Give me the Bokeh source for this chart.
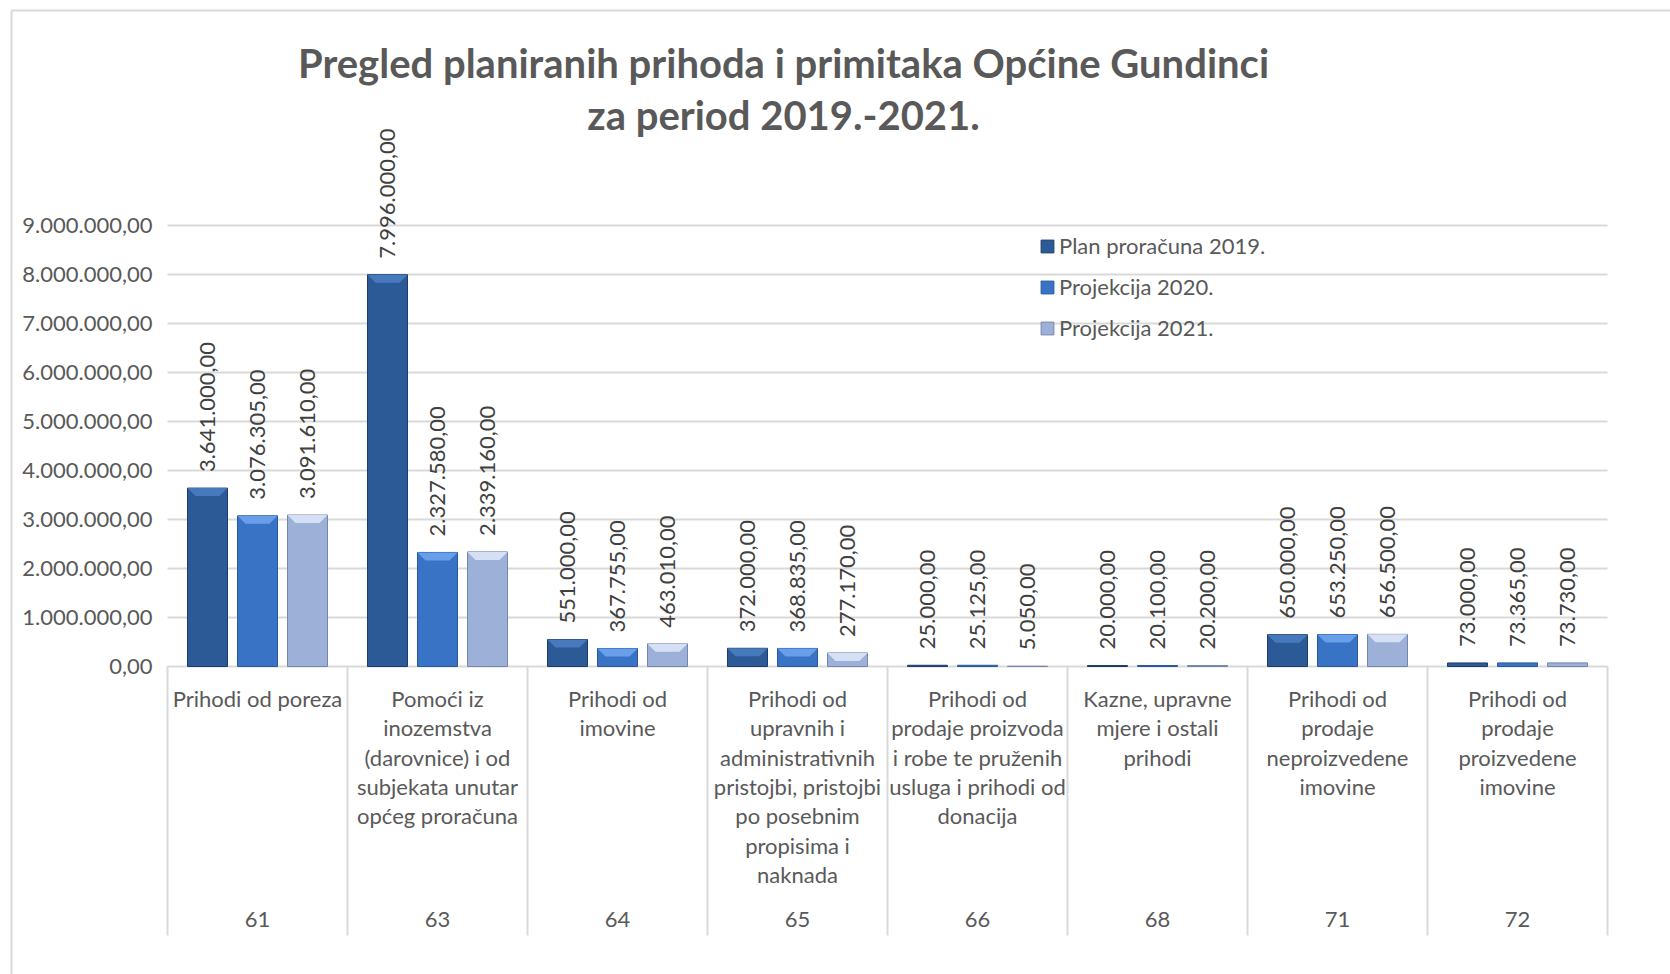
import math
from bokeh.plotting import figure
from bokeh.models import Range1d, Legend, LegendItem
from bokeh.core.properties import value
from bokeh.embed import file_html
from bokeh.resources import INLINE

# ---------------- data ----------------
codes = ["61", "63", "64", "65", "66", "68", "71", "72"]
categories = [
    "Prihodi od poreza",
    "Pomoći iz\ninozemstva\n(darovnice) i od\nsubjekata unutar\nopćeg proračuna",
    "Prihodi od\nimovine",
    "Prihodi od\nupravnih i\nadministrativnih\npristojbi, pristojbi\npo posebnim\npropisima i\nnaknada",
    "Prihodi od\nprodaje proizvoda\ni robe te pruženih\nusluga i prihodi od\ndonacija",
    "Kazne, upravne\nmjere i ostali\nprihodi",
    "Prihodi od\nprodaje\nneproizvedene\nimovine",
    "Prihodi od\nprodaje\nproizvedene\nimovine",
]
plan_2019 = [3641000, 7996000, 551000, 372000, 25000, 20000, 650000, 73000]
proj_2020 = [3076305, 2327580, 367755, 368835, 25125, 20100, 653250, 73365]
proj_2021 = [3091610, 2339160, 463010, 277170, 5050, 20200, 656500, 73730]
series_names = ["Plan proračuna 2019.", "Projekcija 2020.", "Projekcija 2021."]
y_ticks = [0, 1000000, 2000000, 3000000, 4000000, 5000000, 6000000, 7000000, 8000000, 9000000]
title_lines = ["Pregled planiranih prihoda i primitaka Općine Gundinci", "za period 2019.-2021."]

# ---------------- styles / layout ----------------
FONT = "Lato"
TXT = "#595959"
GRID = "#D9D9D9"
fills = ["#2B5A97", "#3873C6", "#9DB1D8"]
edges = ["#1C3D6B", "#2A5A9E", "#7486AC"]
tops = ["#4A7DC0", "#6FA3EC", "#DCE6F7"]

W, H = 1670, 974
FL, FR = 167, 1607            # plot area left/right (px)
ZERO_PX, TOP_TICK_PX = 666, 225
ppu_y = (ZERO_PX - TOP_TICK_PX) / y_ticks[-1]
ppu_x = (FR - FL) / len(codes)


def X(px):
    return (px - FL) / ppu_x


def Y(py):
    return (ZERO_PX - py) / ppu_y


def fmt(v):
    s = f"{v:,.2f}"
    return s.replace(",", "X").replace(".", ",").replace("X", ".")


p = figure(width=W, height=H, x_range=Range1d(X(0), X(W)), y_range=Range1d(Y(H), Y(0)),
           output_backend="svg", toolbar_location=None,
           x_axis_location=None, y_axis_location=None,
           min_border=0, min_border_left=0, min_border_right=0,
           min_border_top=0, min_border_bottom=0)
p.outline_line_color = None
p.background_fill_color = "white"
p.border_fill_color = "white"
p.grid.visible = False

# chart border (left + top)
p.segment(x0=[X(11), X(11)], y0=[Y(10), Y(10)], x1=[X(11), X(W)], y1=[Y(H), Y(10)],
          line_color=GRID, line_width=2)

# value gridlines + tick labels
n = len(codes)
p.segment(x0=[0] * len(y_ticks), y0=y_ticks, x1=[n] * len(y_ticks), y1=y_ticks,
          line_color=GRID, line_width=2)
p.text(x=[X(152)] * len(y_ticks), y=y_ticks, text=[fmt(t) for t in y_ticks],
       text_align="right", text_baseline="middle",
       text_font=value(FONT), text_font_size="22px", text_color=TXT)

# category separators
bounds = list(range(n + 1))
p.segment(x0=bounds, y0=[0] * len(bounds), x1=bounds, y1=[Y(935)] * len(bounds),
          line_color=GRID, line_width=2)

# bars
bar_w = 40 / ppu_x
offs = [-50 / ppu_x, 0.0, 50 / ppu_x]
renderers = []
for k, vals in enumerate([plan_2019, proj_2020, proj_2021]):
    xs = [i + 0.5 + offs[k] for i in range(len(vals))]
    r = p.vbar(x=xs, top=vals, bottom=0, width=bar_w, fill_color=fills[k],
               line_color=edges[k], line_width=1)
    renderers.append(r)
    # bevel highlight on top
    pxs, pys = [], []
    bev_y = 8 / ppu_y
    bev_x = 8 / ppu_x
    for xc, v in zip(xs, vals):
        if v * ppu_y > 12:
            pxs.append([xc - bar_w / 2, xc + bar_w / 2, xc + bar_w / 2 - bev_x, xc - bar_w / 2 + bev_x])
            pys.append([v, v, v - bev_y, v - bev_y])
    if pxs:
        p.patches(xs=pxs, ys=pys, fill_color=tops[k], line_color=None, fill_alpha=0.9)
    # data labels
    p.text(x=xs, y=[v + 16 / ppu_y for v in vals], text=[fmt(v) for v in vals],
           angle=math.pi / 2, text_align="left", text_baseline="middle",
           text_font=value(FONT), text_font_size="22px", text_color="#404040")

# category labels
lx, ly, lt = [], [], []
for i, c in enumerate(categories):
    for j, line in enumerate(c.split("\n")):
        lx.append(i + 0.5)
        ly.append(Y(698 + j * 29.3))
        lt.append(line)
p.text(x=lx, y=ly, text=lt, text_align="center", text_baseline="middle",
       text_font=value(FONT), text_font_size="22px", text_color=TXT)
p.text(x=[i + 0.5 for i in range(n)], y=[Y(919)] * n, text=codes,
       text_align="center", text_baseline="middle",
       text_font=value(FONT), text_font_size="22px", text_color=TXT)

# title
p.text(x=[X(783)] * 2, y=[Y(62), Y(114)], text=title_lines, text_align="center",
       text_baseline="middle", text_font=value(FONT), text_font_style="bold",
       text_font_size="40px", text_color=TXT)

legend = Legend(items=[LegendItem(label=s, renderers=[r]) for s, r in zip(series_names, renderers)],
                location=(1039, H - 341), orientation="vertical",
                spacing=14, label_height=20, glyph_height=16, glyph_width=16,
                label_standoff=4, padding=0, margin=0,
                border_line_alpha=0, background_fill_alpha=0,
                label_text_font=FONT, label_text_font_size="22px", label_text_color=TXT)
p.add_layout(legend)

open("out.html", "w").write(file_html(p, INLINE))
